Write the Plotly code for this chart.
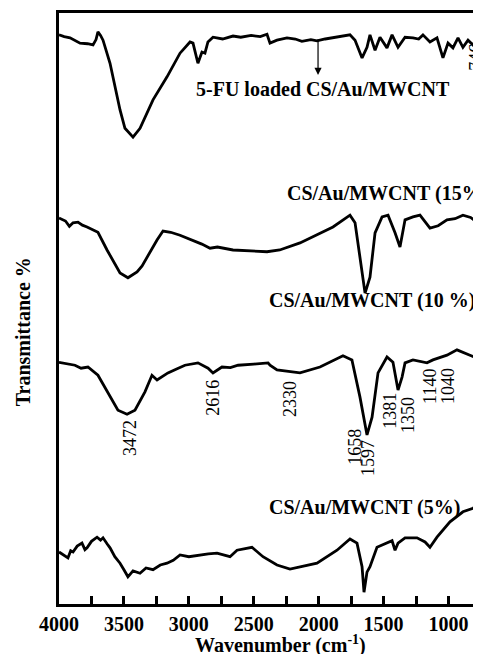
import plotly.graph_objects as go

# ---- data (wavenumber in cm^-1, transmittance in arbitrary offset %) ----
fu_wn = [4000, 3960, 3915, 3870, 3838, 3780, 3738, 3715, 3700, 3680, 3661, 3607, 3530, 3492, 3430,
         3376, 3276, 3168, 3068, 2991, 2968, 2930, 2899, 2876, 2853, 2814, 2740, 2660, 2600, 2520,
         2450, 2398, 2375, 2321, 2244, 2180, 2130, 2060, 2013, 1950, 1890, 1820, 1759, 1720, 1666,
         1628, 1605, 1566, 1528, 1474, 1435, 1389, 1335, 1274, 1230, 1197, 1143, 1089, 1043, 1004,
         966, 927, 889, 850, 812, 780, 750]
fu_t = [96.3, 96.0, 95.8, 95.3, 94.9, 94.8, 94.6, 95.5, 96.8, 96.2, 95.4, 91.5, 83.6, 80.5, 79.0,
        80.5, 85.3, 89.2, 93.2, 95.1, 94.9, 91.5, 93.4, 93.2, 95.1, 95.9, 95.6, 96.1, 95.9, 96.2,
        96.0, 96.4, 94.9, 95.4, 95.8, 95.6, 95.2, 95.5, 95.3, 95.6, 95.8, 96.1, 96.3, 95.4, 92.4,
        94.2, 96.3, 93.7, 95.9, 94.1, 96.3, 94.2, 95.9, 95.8, 95.6, 96.3, 95.1, 95.8, 92.4, 94.9,
        94.1, 95.8, 94.2, 95.4, 94.6, 95.6, 95.4]

c15_wn = [4000, 3950, 3920, 3892, 3854, 3820, 3784, 3700, 3630, 3530, 3469, 3399, 3360, 3322,
          3245, 3199, 3140, 3068, 3020, 2968, 2900, 2837, 2780, 2660, 2560, 2398, 2300, 2144,
          1890, 1759, 1720, 1682, 1643, 1605, 1566, 1512, 1466, 1412, 1374, 1335, 1274, 1220,
          1143, 1080, 1012, 950, 889, 830, 781, 750]
c15_t = [65.3, 64.8, 63.9, 64.5, 64.6, 64.1, 63.8, 62.9, 59.9, 56.0, 55.2, 56.2, 57.2, 58.7,
         61.6, 63.1, 62.9, 62.4, 62.0, 61.6, 60.9, 60.2, 60.4, 59.9, 59.8, 59.6, 59.9, 61.1,
         63.8, 65.8, 64.5, 58.7, 52.6, 55.3, 62.8, 65.5, 65.8, 62.8, 60.4, 65.0, 65.5, 65.8,
         63.6, 64.0, 65.0, 65.2, 65.8, 65.4, 64.6, 65.0]

c10_wn = [4000, 3930, 3877, 3830, 3777, 3700, 3623, 3546, 3476, 3415, 3338, 3284, 3245, 3161,
          3090, 3030, 2930, 2852, 2814, 2745, 2680, 2621, 2500, 2390, 2375, 2321, 2144, 1990,
          1813, 1744, 1682, 1628, 1589, 1543, 1474, 1428, 1389, 1358, 1335, 1274, 1166, 1120,
          1012, 935, 835, 781, 750]
c10_t = [40.9, 40.6, 40.4, 39.9, 40.1, 38.7, 35.7, 32.8, 32.1, 32.8, 35.9, 38.7, 37.9, 39.1,
         39.8, 40.4, 40.8, 39.9, 39.1, 40.1, 40.0, 40.4, 40.6, 40.8, 40.4, 39.6, 39.1, 40.1,
         42.0, 41.3, 35.0, 28.6, 31.6, 39.1, 41.8, 40.9, 36.2, 38.4, 40.8, 41.3, 40.8, 41.3,
         42.1, 43.0, 42.1, 41.6, 42.1]

c5_wn = [4000, 3960, 3931, 3910, 3892, 3860, 3823, 3800, 3784, 3750, 3707, 3680, 3661, 3630,
         3607, 3570, 3530, 3500, 3469, 3430, 3376, 3330, 3276, 3220, 3168, 3120, 3068, 3000,
         2914, 2850, 2783, 2683, 2629, 2514, 2429, 2321, 2221, 2013, 1859, 1759, 1705, 1666,
         1651, 1628, 1605, 1551, 1435, 1412, 1389, 1335, 1243, 1181, 1143, 1089, 989, 889, 812, 750]
c5_t = [8.8, 8.2, 7.8, 9.0, 8.8, 9.8, 10.3, 9.2, 9.5, 10.6, 11.3, 10.8, 11.2, 10.2,
        9.5, 8.0, 6.9, 5.8, 4.6, 5.6, 5.2, 6.1, 5.8, 6.6, 6.9, 7.4, 8.3, 8.0,
        8.3, 8.5, 8.6, 8.0, 9.1, 9.6, 8.0, 6.6, 5.9, 6.9, 9.1, 11.0, 10.3, 6.3,
        2.0, 5.4, 6.3, 9.6, 10.7, 9.1, 10.3, 11.2, 11.2, 10.5, 9.6, 11.3, 13.9, 15.6, 16.2, 17.1]

series_names = ["5-FU loaded CS/Au/MWCNT", "CS/Au/MWCNT (15%)", "CS/Au/MWCNT (10 %)", "CS/Au/MWCNT (5%)"]

peak_labels = ["3472", "2616", "2330", "1658", "1597", "1381", "1350", "1140", "1040", "746"]
peak_wn = [3453, 2814, 2221, 1720, 1620, 1451, 1312, 1143, 1004, 789]
peak_t = [28.1, 34.9, 34.7, 26.6, 24.7, 32.7, 32.0, 36.9, 36.9, 92.6]

x_ticks = [4000, 3500, 3000, 2500, 2000, 1500, 1000]

SERIF = "Liberation Serif, Times New Roman, serif"

fig = go.Figure()
for wn, t, name in zip([fu_wn, c15_wn, c10_wn, c5_wn], [fu_t, c15_t, c10_t, c5_t], series_names):
    fig.add_trace(go.Scatter(x=wn, y=t, mode="lines", name=name,
                             line=dict(color="black", width=2.8), showlegend=False))

# series labels
label_pos = [(1967, 87.1, "center"), (2260, 69.5, "left"), (2398, 51.4, "left"), (2398, 16.4, "left")]
for (x, y, anc), name in zip(label_pos, series_names):
    fig.add_annotation(x=x, y=y, text=name, showarrow=False, xanchor=anc, yanchor="middle",
                       font=dict(family=SERIF, size=20, color="black", weight="bold"))

# arrow
fig.add_annotation(x=2005, y=89.5, ax=2005, ay=95.8, axref="x", ayref="y", text="",
                   showarrow=True, arrowhead=2, arrowsize=1.2, arrowwidth=1.2, arrowcolor="black")

# peak labels
for lab, x, y in zip(peak_labels, peak_wn, peak_t):
    fig.add_annotation(x=x, y=y, text=lab, showarrow=False, textangle=-90,
                       xanchor="center", yanchor="middle",
                       font=dict(family=SERIF, size=18, color="black"))

# axis titles
fig.add_annotation(xref="paper", yref="paper", x=0.524, y=-0.068, text="Wavenumber (cm<sup>-1</sup>)",
                   showarrow=False, xanchor="center", yanchor="middle",
                   font=dict(family=SERIF, size=20, color="black", weight="bold"))
fig.add_annotation(xref="paper", yref="paper", x=-0.085, y=0.46, text="Transmittance %",
                   showarrow=False, textangle=-90, xanchor="center", yanchor="middle",
                   font=dict(family=SERIF, size=20, color="black", weight="bold"))

fig.update_xaxes(range=[4000, 750], tickvals=x_ticks, ticktext=[str(v) for v in x_ticks],
                 ticks="inside", ticklen=8, tickwidth=2.5, tickcolor="black",
                 minor=dict(dtick=250, tick0=0, ticks="inside", ticklen=8, tickwidth=2.5, tickcolor="black"),
                 showline=True, linewidth=3, linecolor="black", mirror=True,
                 showgrid=False, zeroline=False,
                 tickfont=dict(family=SERIF, size=20, color="black", weight="bold"))
fig.update_yaxes(range=[0, 100], showticklabels=False, ticks="", showline=True, linewidth=3,
                 linecolor="black", showgrid=False, zeroline=False)

# the page adds an 8px body margin, so the figure is sized to sit inside the window
fig.update_layout(width=473, height=646, margin=dict(l=51, r=0, t=5, b=50),
                  plot_bgcolor="white", paper_bgcolor="white")

fig.write_html("out.html")
